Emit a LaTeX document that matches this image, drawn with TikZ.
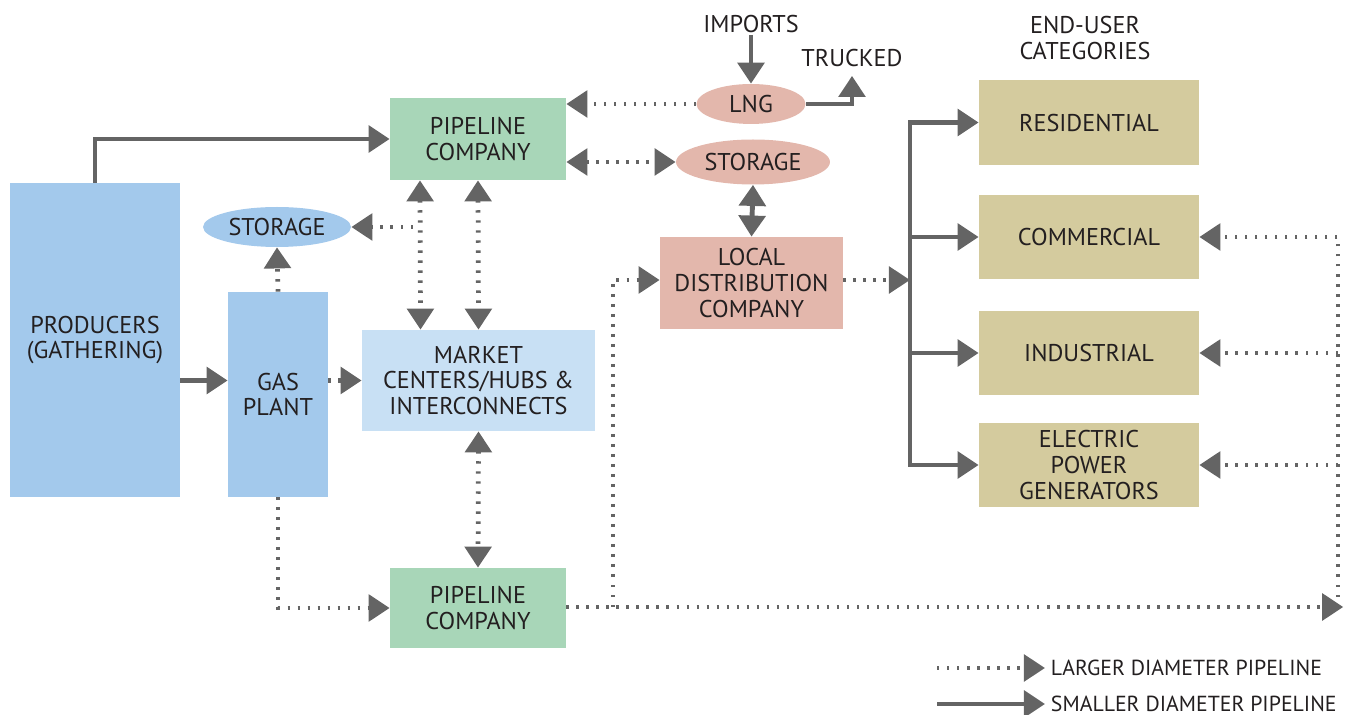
\documentclass[tikz,border=0pt]{standalone}
\usepackage{fontspec}
\setmainfont{PT Sans}
\usepackage{tikz}
\usetikzlibrary{arrows.meta,calc,positioning,shapes.geometric}
\definecolor{pipegray}{HTML}{646464}
\definecolor{inkblack}{HTML}{231F20}
\definecolor{prodblue}{HTML}{A3C9EC}
\definecolor{hubblue}{HTML}{C8E0F4}
\definecolor{pipegreen}{HTML}{A8D6B8}
\definecolor{ldcpink}{HTML}{E3B7AC}
\definecolor{userkhaki}{HTML}{D4CB9E}
\newcommand\ngfont{\fontsize{13.8}{14.7}\selectfont}
\newcommand\ngkeyfont{\fontsize{12.4}{14}\selectfont}
\tikzset{
  every picture/.append style={line join=miter},
  ng box/.style={rectangle,inner sep=0pt,align=center,text=inkblack,font=\ngfont},
  ng oval/.style={ellipse,inner sep=0pt,align=center,text=inkblack,font=\ngfont},
  ng label/.style={align=center,text=inkblack,font=\ngfont,inner sep=1pt},
  large pipe/.style={draw=pipegray,line width=2.7pt,dash pattern=on 1.4pt off 4.3pt},
  small pipe/.style={draw=pipegray,line width=2.8pt},
  >={Triangle[length=12pt,width=15pt]}
}

\begin{document}
\begin{tikzpicture}[x=0.02cm,y=-0.02cm]
  \useasboundingbox (0,0) rectangle (1353,715);

  % supply side
  \node[ng box,fill=prodblue,minimum width=3.4cm,minimum height=6.28cm] (producers) at (95,340) {PRODUCERS\\(GATHERING)};
  \node[ng box,fill=prodblue,minimum width=2.0cm,minimum height=4.1cm] (gasplant) at (278,394.5) {GAS\\PLANT};
  \node[ng oval,fill=prodblue,minimum width=2.96cm,minimum height=0.8cm] (storeA) at (277,227) {STORAGE};
  \node[ng box,fill=pipegreen,minimum width=3.52cm,minimum height=1.64cm] (pipeTop) at (478,139) {PIPELINE\\COMPANY};
  \node[ng box,fill=hubblue,minimum width=4.66cm,minimum height=2.02cm] (market) at (478.5,380.5) {MARKET\\CENTERS/HUBS \&\\INTERCONNECTS};
  \node[ng box,fill=pipegreen,minimum width=3.52cm,minimum height=1.6cm] (pipeBot) at (478,608) {PIPELINE\\COMPANY};

  % lng, storage, distribution
  \node[ng oval,fill=ldcpink,minimum width=2.18cm,minimum height=0.8cm] (lng) at (751,104) {LNG};
  \node[ng oval,fill=ldcpink,minimum width=3.08cm,minimum height=0.9cm] (storeB) at (753,162) {STORAGE};
  \node[ng box,fill=ldcpink,minimum width=3.66cm,minimum height=1.84cm] (ldc) at (751.5,283) {LOCAL\\DISTRIBUTION\\COMPANY};
  \node[ng label] (imports) at (751,24) {IMPORTS};
  \node[ng label] (trucked) at (852,58) {TRUCKED};

  % end users
  \node[ng label] (enduser) at (1085,38) {END-USER\\CATEGORIES};
  \node[ng box,fill=userkhaki,minimum width=4.4cm,minimum height=1.7cm,text depth=-2pt] (resid) at (1089,122.5) {RESIDENTIAL};
  \node[ng box,fill=userkhaki,minimum width=4.4cm,minimum height=1.68cm] (comm) at (1089,237) {COMMERCIAL};
  \node[ng box,fill=userkhaki,minimum width=4.4cm,minimum height=1.68cm] (indus) at (1089,353) {INDUSTRIAL};
  \node[ng box,fill=userkhaki,minimum width=4.4cm,minimum height=1.68cm] (elec) at (1089,465) {ELECTRIC\\POWER\\GENERATORS};

  \coordinate (tapA) at ($(pipeTop.south)+(-58,0)$);
  \coordinate (tapB) at ($(market.north)+(-58,0)$);
  \coordinate (bus) at (910,280);
  \coordinate (riser) at (1338,607);
  \coordinate (split) at (613,607);

  % solid (smaller) lines
  \draw[small pipe,->] (producers.north) |- (pipeTop.west);
  \draw[small pipe,->] (producers.east |- market) -- (gasplant.west |- market);
  \draw[small pipe,<->] (storeB.south) -- (ldc.north);
  \draw[small pipe,->] (imports.south) -- (lng.north);
  \draw[small pipe,->] (lng.east) -| ([yshift=-4pt]trucked.south);
  \draw[small pipe,->] (bus |- elec.west) |- (resid.west);
  \draw[small pipe,->] (bus |- indus.west) |- (elec.west);
  \draw[small pipe,->] (bus |- comm.west) -- (comm.west);
  \draw[small pipe,->] (bus |- indus.west) -- (indus.west);

  % dotted (larger) lines
  \draw[large pipe,->] (gasplant.east |- market) -- (market.west |- market);
  \draw[large pipe,->] (gasplant.north) -- (storeA.south);
  \draw[large pipe,->] (gasplant.south) |- (pipeBot.west);
  \draw[large pipe,<->] (tapA) -- (tapB);
  \draw[large pipe,<->] (pipeTop.south) -- (market.north);
  \draw[large pipe,->] ([xshift=-4pt]tapA |- storeA.east) -- (storeA.east);
  \draw[large pipe,<->] (market.south) -- (pipeBot.north);
  \draw[large pipe,->] (lng.west) -- (pipeTop.east |- lng.west);
  \draw[large pipe,<->] (pipeTop.east |- storeB.west) -- (storeB.west);
  \draw[large pipe,->] (ldc.east |- bus) -- (bus);
  \draw[large pipe,->] (pipeBot.east |- riser) -- ([xshift=3pt]riser);
  \draw[large pipe,->] (riser) |- (comm.east);
  \draw[large pipe,->] (riser |- indus.east) -- (indus.east);
  \draw[large pipe,->] (riser |- elec.east) -- (elec.east);
  \draw[large pipe,->] (split) |- (ldc.west |- bus);

  % legend
  \coordinate (lgA) at (937,668);
  \coordinate (lgB) at (937,704);
  \draw[large pipe,->] (lgA) -- ++(108,0) node[ng label,font=\ngkeyfont,anchor=west,xshift=1pt] (lgAtext) {LARGER DIAMETER PIPELINE};
  \draw[small pipe,->] (lgB) -- ++(108,0) node[ng label,font=\ngkeyfont,anchor=west,xshift=1pt] (lgBtext) {SMALLER DIAMETER PIPELINE};
\end{tikzpicture}
\end{document}
